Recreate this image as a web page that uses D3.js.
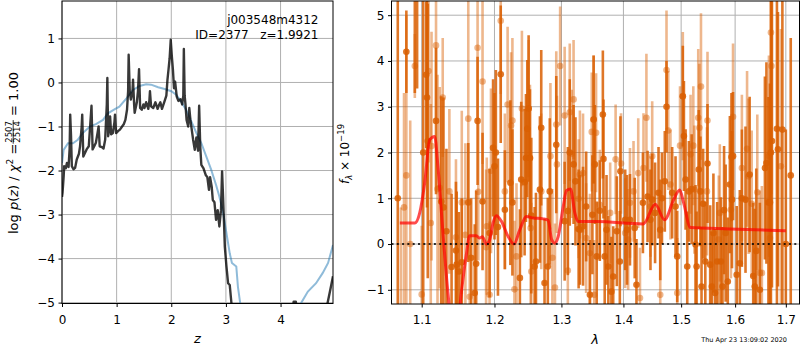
<!DOCTYPE html>
<html>
<head>
<meta charset="utf-8"/>
<script src="https://cdn.jsdelivr.net/npm/d3@7"></script>
<title>p(z) and spectrum</title>
<style type="text/css">
  body { margin: 0; background-color: white; }
  text { font-family: "DejaVu Sans", sans-serif; }
</style>
</head>
<body>
<div id="chart"></div>
<script type="text/javascript">

// ---- left panel: log p(z) ----
var pzZ = [0.00,0.01,0.03,0.04,0.07,0.09,0.12,0.14,0.15,0.165,0.18,0.21,0.24,0.27,0.31,0.33,0.36,0.37,0.39,0.42,
  0.45,0.49,0.52,0.54,0.56,0.59,0.62,0.65,0.67,0.69,0.73,0.76,0.79,0.82,0.83,0.845,0.87,0.88,0.90,0.93,
  0.96,0.97,0.99,1.03,1.06,1.10,1.13,1.16,1.19,1.21,1.22,1.24,1.26,1.29,1.30,1.32,1.33,1.37,1.39,1.41,
  1.43,1.46,1.49,1.51,1.54,1.58,1.60,1.61,1.63,1.67,1.71,1.75,1.78,1.80,1.83,1.87,1.91,1.93,1.95,1.97,
  1.99,2.01,2.03,2.05,2.07,2.10,2.13,2.17,2.20,2.22,2.23,2.245,2.26,2.28,2.31,2.33,2.35,2.40,2.43,2.46,
  2.49,2.51,2.53,2.55,2.59,2.63,2.66,2.69,2.71,2.74,2.76,2.79,2.82,2.85,2.88,2.91,2.93,2.96,2.98,3.01,
  3.04,3.07,3.10,3.12,3.30,3.80,4.20,4.24,4.28,4.32,4.60,4.83,4.87,4.92,4.96];
var pzLogp = [-2.6,-2.5,-2.14,-1.9,-1.95,-1.83,-1.92,-1.5,-0.73,-1.2,-1.9,-1.97,-1.94,-1.75,-1.62,-1.45,-1.0,-0.73,-1.68,-1.6,
  -1.52,-1.45,-0.9,-0.53,-1.52,-1.45,-1.37,-1.15,-1.0,-1.45,-1.47,-1.5,-1.3,-0.5,0.1,-1.22,-1.0,-0.77,-1.18,-1.15,
  -0.9,-0.73,-1.15,-1.1,-1.07,-1.0,-0.95,-0.85,-0.62,-0.2,0.63,-0.2,-0.39,-0.2,0.06,-0.5,-0.69,-0.45,-0.2,0.30,
  -0.58,-0.62,-0.5,-0.58,-0.45,-0.6,-0.4,-0.2,-0.54,-0.58,-0.45,-0.6,-0.5,-0.45,-0.6,-0.45,-0.3,0.06,0.3,0.55,
  0.97,0.6,0.29,-0.13,0.02,-0.32,-0.42,-0.38,-0.5,-0.3,0.76,-0.3,-0.5,-0.85,-1.0,-0.58,-0.85,-1.3,-1.53,-1.25,
  -1.55,-0.53,-1.45,-1.87,-1.95,-2.1,-2.15,-2.44,-2.15,-2.37,-2.67,-2.72,-3.12,-2.9,-3.27,-2.9,-2.02,-3.0,-3.73,-4.18,
  -4.56,-4.6,-5.0,-5.4,-6.5,-7.0,-5.4,-4.98,-4.98,-5.4,-6.0,-5.2,-4.95,-4.65,-4.4];

var priorZ = [0.00,0.03,0.11,0.20,0.29,0.38,0.51,0.63,0.75,0.84,0.96,1.05,1.18,1.30,1.42,1.54,1.63,1.76,1.88,2.00,
  2.09,2.18,2.27,2.37,2.46,2.55,2.64,2.73,2.82,2.88,2.95,3.01,3.07,3.11,3.19,3.22,3.26,3.30,4.30,4.38,
  4.50,4.65,4.77,4.87,4.96];
var priorLogp = [-1.83,-1.53,-1.38,-1.38,-1.30,-1.15,-1.0,-0.94,-0.85,-0.70,-0.61,-0.55,-0.36,-0.17,-0.08,-0.04,-0.05,-0.11,-0.15,-0.20,
  -0.28,-0.43,-0.62,-0.89,-1.15,-1.38,-1.68,-1.98,-2.33,-2.59,-2.97,-3.42,-3.88,-4.1,-4.18,-4.64,-5.0,-5.5,-5.5,-5.0,
  -4.75,-4.56,-4.33,-4.1,-3.69];

var zTicks = [0, 1, 2, 3, 4];
var logpTicks = [-5, -4, -3, -2, -1, 0, 1];

// ---- right panel: 1D spectrum ----
var darkWave = [1.069,1.080,1.091,1.094,1.102,1.106,1.107,1.108,1.119,1.126,
  1.129,1.133,1.140,1.146,1.147,1.150,1.154,1.163,1.167,1.172,
  1.174,1.176,1.183,1.193,1.198,1.200,1.202,1.205,1.209,1.215,
  1.223,1.226,1.237,1.239,1.244,1.246,1.248,1.250,1.252,1.254,
  1.259,1.261,1.267,1.269,1.274,1.279,1.282,1.292,1.305,1.310,
  1.313,1.319,1.322,1.327,1.329,1.334,1.339,1.345,1.349,1.351,
  1.353,1.356,1.361,1.366,1.367,1.369,1.372,1.375,1.380,1.383,
  1.389,1.394,1.395,1.403,1.406,1.411,1.419,1.422,1.433,1.441,
  1.446,1.449,1.454,1.460,1.463,1.466,1.471,1.474,1.484,1.490,
  1.493,1.503,1.505,1.508,1.511,1.514,1.519,1.526,1.528,1.532,
  1.535,1.537,1.540,1.544,1.548,1.553,1.556,1.559,1.562,1.566,
  1.573,1.576,1.579,1.582,1.586,1.590,1.593,1.594,1.596,1.603,
  1.609,1.613,1.620,1.628,1.635,1.638,1.641,1.648,1.658,1.661,
  1.665,1.668,1.670,1.672,1.682,1.684,1.693,1.700,1.710];
var darkFlux = [1.0,4.2,5.6,6.0,2.0,3.7,3.2,2.25,2.69,0.93,
  0.8,0.28,-0.5,-0.14,-0.45,-0.6,-0.4,0.91,-0.3,-1.07,
  -0.43,2.69,0.93,0.24,2.1,1.7,2.0,0.37,3.71,0.75,
  1.34,0.91,-0.74,1.41,1.35,1.88,2.52,2.96,1.88,0.62,
  -0.49,-0.38,1.19,2.54,-0.85,-0.49,1.15,2.17,0.5,0.72,
  2.0,1.74,1.37,0.33,0.31,0.39,0.82,-1.11,0.64,2.72,
  1.74,-0.27,0.73,2.83,1.86,-0.27,0.31,-0.49,-1.04,-0.71,
  0.28,-0.38,1.59,0.53,0.31,0.53,0.35,-0.89,0.9,1.04,
  0.53,0.97,0.68,1.12,0.31,1.0,1.37,3.0,1.12,0.82,
  -0.27,3.23,2.36,1.41,-0.49,1.15,1.2,-0.01,-0.49,1.63,
  1.15,-0.93,0.88,-0.38,1.76,-0.45,-0.93,0.24,-1.07,-0.38,
  -0.38,-0.93,0.74,0.24,-0.82,1.3,1.9,0.97,1.92,-0.67,
  -0.42,1.0,0.97,1.52,-0.7,-0.93,-0.15,-1.0,1.66,1.77,
  0.91,0.91,2.0,2.25,2.52,2.07,2.5,0.0,1.5];
var darkErr = [4.5,0.9,2.3,2.6,4.2,1.6,2.4,3.0,1.6,2.3,
  2.4,1.8,1.6,1.5,1.6,1.3,1.4,1.3,1.3,1.5,
  1.6,1.4,1.5,1.4,1.5,1.6,1.8,1.5,1.5,1.3,
  1.8,1.6,1.5,1.7,1.6,1.4,1.5,1.6,1.5,1.7,
  1.3,1.5,1.6,1.7,1.4,1.5,1.6,1.5,1.3,1.4,
  1.6,1.3,1.4,1.3,1.2,1.3,1.2,1.2,1.3,1.4,
  1.3,1.2,1.1,1.4,1.3,1.1,1.2,1.1,1.2,1.1,
  1.2,1.1,1.2,1.1,1.2,1.0,1.1,1.0,1.1,1.0,
  1.1,1.0,1.1,1.0,1.1,1.0,1.1,1.0,1.0,1.1,
  1.0,1.1,1.2,1.1,1.2,1.1,1.2,1.3,1.2,1.3,
  1.2,1.3,1.2,1.3,1.3,1.3,1.2,1.3,1.4,1.3,
  1.4,1.3,1.4,1.5,1.4,1.5,1.4,1.5,1.4,1.5,
  1.6,1.5,1.6,1.7,1.6,1.7,1.8,1.9,2.0,2.2,
  2.3,2.6,4.5,3.2,4.5,3.0,5.0,2.5,3.0];

var lightWave = [1.073,1.077,1.080,1.085,1.091,1.100,1.109,1.112,1.113,1.119,
  1.121,1.124,1.128,1.137,1.146,1.154,1.159,1.163,1.165,1.176,
  1.177,1.183,1.188,1.189,1.193,1.195,1.209,1.215,1.219,1.224,
  1.226,1.229,1.232,1.240,1.250,1.252,1.253,1.254,1.269,1.283,
  1.286,1.290,1.292,1.293,1.298,1.305,1.310,1.313,1.316,1.319,
  1.327,1.329,1.334,1.339,1.345,1.348,1.351,1.352,1.355,1.361,
  1.378,1.387,1.396,1.403,1.408,1.411,1.417,1.425,1.428,1.434,
  1.439,1.446,1.449,1.463,1.474,1.477,1.481,1.493,1.498,1.503,
  1.517,1.522,1.524,1.531,1.533,1.536,1.547,1.548,1.569,1.571,
  1.592,1.596,1.613,1.623,1.626,1.632,1.643,1.648,1.652,1.666,
  1.668,1.670,1.671,1.690];
var lightFlux = [-1.5,0.8,1.5,0.0,3.89,-1.1,3.78,0.46,2.14,4.34,
  1.2,1.23,3.2,1.15,0.15,0.91,0.2,2.74,-1.15,4.29,
  1.14,3.55,-0.07,0.39,-1.11,1.6,4.88,1.15,3.05,2.59,
  2.7,-0.99,-0.27,2.96,2.96,1.88,0.35,-0.6,1.15,1.92,
  -0.3,-0.95,2.61,1.74,3.89,2.81,-0.58,2.88,1.97,3.16,
  0.99,1.52,1.55,0.13,-0.2,2.45,2.72,-1.11,2.43,0.86,
  0.68,1.85,1.76,0.24,0.1,0.9,1.15,1.55,-1.18,1.66,
  2.76,0.82,1.92,-1.11,3.8,2.48,1.3,-1.07,2.15,3.23,
  1.96,2.15,1.19,2.76,2.54,3.44,1.15,2.7,0.1,0.68,
  0.75,2.78,1.66,2.08,1.48,0.88,1.13,-0.63,-0.63,1.92,
  0.13,4.62,3.89,1.7];
var lightErr = [2.3,2.5,3.5,2.7,0.7,1.5,2.0,2.6,2.5,1.7,
  2.5,2.2,1.3,1.8,1.7,2.0,2.0,2.6,1.2,1.6,
  1.5,1.8,1.7,1.5,1.6,1.8,1.6,1.7,1.7,1.6,
  1.8,1.5,1.6,1.7,1.5,1.6,1.7,1.5,1.7,1.6,
  1.5,1.4,1.6,1.5,1.3,1.5,1.4,1.5,1.4,1.3,
  1.3,1.4,1.3,1.2,1.3,1.3,1.4,1.2,1.3,1.2,
  1.1,1.2,1.1,1.2,1.1,1.2,1.1,1.2,1.1,1.2,
  1.4,1.1,1.2,1.2,1.3,1.3,1.2,1.2,1.3,1.4,
  1.3,1.3,1.4,1.5,1.4,1.6,1.4,1.5,1.4,1.5,
  1.5,1.6,1.6,1.7,1.7,1.6,1.7,1.8,1.9,2.2,
  2.4,2.3,2.8,3.0];

var modelWave = [1.0716,1.0911,1.0974,1.1039,1.1106,1.1172,1.1216,1.1283,1.1351,1.141,1.147,1.1533,
  1.1603,1.1649,1.1742,1.1789,1.1827,1.1884,1.1931,1.1979,1.2027,1.2099,1.2196,1.2284,
  1.2368,1.2467,1.2567,1.2719,1.2796,1.2848,1.2897,1.2949,1.3028,1.3079,1.3142,1.3210,
  1.3263,1.3557,1.4337,1.4542,1.4706,1.4866,1.4975,1.5047,1.5166,1.5900,1.700];
var modelFlux = [0.46,0.46,0.68,1.33,2.28,2.35,1.69,0.24,-1.07,-1.9,-1.95,-1.07,
  -0.23,0.18,0.18,0.13,0.16,0.0,0.09,0.46,0.62,0.5,0.17,0.0,
  0.31,0.6,0.57,0.55,0.52,0.1,0.02,0.16,0.82,1.17,1.2,0.68,
  0.49,0.49,0.44,0.87,0.53,0.97,1.18,0.89,0.36,0.33,0.29];

var waveTicks = [1.1, 1.2, 1.3, 1.4, 1.5, 1.6, 1.7];
var fluxTicks = [-1, 0, 1, 2, 3, 4, 5];

// ---- layout ----
var L = {left: 62, right: 333, top: 1, bottom: 303.5};
var R = {left: 391.5, right: 799.5, top: 1, bottom: 304};

var svg = d3.select("#chart").append("svg")
    .attr("width", 800)
    .attr("height", 350);

var defs = svg.append("defs");
defs.append("clipPath").attr("id", "clipL").append("rect")
    .attr("x", L.left).attr("y", L.top).attr("width", L.right - L.left).attr("height", L.bottom - L.top);
defs.append("clipPath").attr("id", "clipR").append("rect")
    .attr("x", R.left).attr("y", R.top).attr("width", R.right - R.left).attr("height", R.bottom - R.top);

var xL = d3.scaleLinear().domain([0, 4.96]).range([L.left, L.right]);
var yL = d3.scaleLinear().domain([-5.02, 1.85]).range([L.bottom, L.top]);
var xR = d3.scaleLog().domain([1.061, 1.728]).range([R.left, R.right]);
var yR = d3.scaleLinear().domain([-1.31, 5.31]).range([R.bottom, R.top]);

function drawGrid(box, xs, ys, xt, yt) {
  var g = svg.append("g").attr("class", "grid");
  g.selectAll(".gx").data(xt).enter().append("line")
    .attr("x1", function(d){ return xs(d); }).attr("x2", function(d){ return xs(d); })
    .attr("y1", box.top).attr("y2", box.bottom)
    .attr("stroke", "#b0b0b0").attr("stroke-width", 1);
  g.selectAll(".gy").data(yt).enter().append("line")
    .attr("x1", box.left).attr("x2", box.right)
    .attr("y1", function(d){ return ys(d); }).attr("y2", function(d){ return ys(d); })
    .attr("stroke", "#b0b0b0").attr("stroke-width", 1);
}

function drawAxes(box, xs, ys, xt, yt, xfmt) {
  var ax = svg.append("g")
    .attr("transform", "translate(0," + box.bottom + ")")
    .call(d3.axisBottom(xs).tickValues(xt).tickSize(3.5).tickPadding(8).tickFormat(xfmt));
  var ay = svg.append("g")
    .attr("transform", "translate(" + box.left + ",0)")
    .call(d3.axisLeft(ys).tickValues(yt).tickSize(3.5).tickPadding(3.5).tickFormat(d3.format("d")));
  [ax, ay].forEach(function(a){
    a.select(".domain").remove();
    a.attr("font-size", 12).attr("font-family", "DejaVu Sans");
    a.selectAll("line").attr("stroke", "#000").attr("stroke-width", 1);
    a.selectAll("text").attr("fill", "#000");
  });
  svg.append("rect")
    .attr("x", box.left).attr("y", box.top)
    .attr("width", box.right - box.left).attr("height", box.bottom - box.top)
    .attr("fill", "none").attr("stroke", "#000").attr("stroke-width", 1);
}

// left panel
drawGrid(L, xL, yL, zTicks, logpTicks);

var pzLine = d3.line()
    .x(function(d){ return xL(d[0]); })
    .y(function(d){ return yL(d[1]); });

var gl = svg.append("g").attr("clip-path", "url(#clipL)");
gl.append("path")
    .datum(priorZ.map(function(z, i){ return [z, priorLogp[i]]; }))
    .attr("d", pzLine)
    .attr("fill", "none").attr("stroke", "#1f77b4").attr("stroke-opacity", 0.5).attr("stroke-width", 2);
gl.append("path")
    .datum(pzZ.map(function(z, i){ return [z, pzLogp[i]]; }))
    .attr("d", pzLine)
    .attr("fill", "none").attr("stroke", "#000").attr("stroke-opacity", 0.78)
    .attr("stroke-width", 2.4).attr("stroke-linejoin", "round");

drawAxes(L, xL, yL, zTicks, logpTicks, d3.format("d"));

svg.append("text").attr("x", 318.5).attr("y", 24).attr("text-anchor", "end")
    .attr("font-size", 12).text("j003548m4312");
svg.append("text").attr("x", 318.5).attr("y", 39).attr("text-anchor", "end")
    .attr("font-size", 12).attr("xml:space", "preserve").text("ID=2377   z=1.9921");

svg.append("text").attr("x", 197.5).attr("y", 343).attr("text-anchor", "middle")
    .attr("font-size", 13).attr("font-style", "italic").text("z");

// y label with stacked fraction
var ylab = svg.append("g").attr("transform", "translate(17.5,153) rotate(-90)");
var partA = ylab.append("text").attr("font-size", 13);
partA.append("tspan").text("log ");
partA.append("tspan").attr("font-style", "italic").text("p");
partA.append("tspan").text("(");
partA.append("tspan").attr("font-style", "italic").text("z");
partA.append("tspan").text(") / ");
partA.append("tspan").attr("font-style", "italic").text("\u03c7");
partA.append("tspan").attr("font-size", 9).attr("dy", -5).text("2");
partA.append("tspan").attr("dy", 5).text(" = ");
var num = ylab.append("text").attr("font-size", 8.5).attr("text-anchor", "middle").text("2507");
var den = ylab.append("text").attr("font-size", 8.5).attr("text-anchor", "middle").text("2514");
var partB = ylab.append("text").attr("font-size", 13).attr("xml:space", "preserve").text(" = 1.00");
var wA = partA.node().getComputedTextLength();
var wF = Math.max(num.node().getComputedTextLength(), den.node().getComputedTextLength()) + 2;
var wB = partB.node().getComputedTextLength();
var x0 = -(wA + wF + wB) / 2;
partA.attr("x", x0);
num.attr("x", x0 + wA + wF / 2).attr("y", -6);
den.attr("x", x0 + wA + wF / 2).attr("y", 2.5);
ylab.append("line").attr("x1", x0 + wA).attr("x2", x0 + wA + wF)
    .attr("y1", -4.3).attr("y2", -4.3).attr("stroke", "#000").attr("stroke-width", 0.8);
partB.attr("x", x0 + wA + wF);

// right panel
drawGrid(R, xR, yR, waveTicks, fluxTicks);

var gr = svg.append("g").attr("clip-path", "url(#clipR)");

function drawSpec(wave, flux, err, op) {
  var pts = wave.map(function(w, i){ return {w: w, f: flux[i], e: err[i]}; });
  var g = gr.append("g");
  g.selectAll("line").data(pts).enter().append("line")
    .attr("x1", function(d){ return xR(d.w); }).attr("x2", function(d){ return xR(d.w); })
    .attr("y1", function(d){ return yR(d.f - d.e); }).attr("y2", function(d){ return yR(d.f + d.e); })
    .attr("stroke", "#d95f02").attr("stroke-width", 2.6).attr("stroke-opacity", op);
  g.selectAll("circle").data(pts).enter().append("circle")
    .attr("cx", function(d){ return xR(d.w); }).attr("cy", function(d){ return yR(d.f); })
    .attr("r", 3.3).attr("fill", "#d95f02").attr("fill-opacity", op);
}
drawSpec(lightWave, lightFlux, lightErr, 0.45);
drawSpec(darkWave, darkFlux, darkErr, 0.85);

gr.append("path")
    .datum(modelWave.map(function(w, i){ return [w, modelFlux[i]]; }))
    .attr("d", d3.line().curve(d3.curveMonotoneX)
        .x(function(d){ return xR(d[0]); })
        .y(function(d){ return yR(d[1]); }))
    .attr("fill", "none").attr("stroke", "#ff0000").attr("stroke-opacity", 0.7).attr("stroke-width", 3);

gr.append("line")
    .attr("x1", R.left).attr("x2", R.right)
    .attr("y1", yR(0)).attr("y2", yR(0))
    .attr("stroke", "#000").attr("stroke-opacity", 0.8).attr("stroke-width", 2)
    .attr("stroke-dasharray", "2,3.3");

drawAxes(R, xR, yR, waveTicks, fluxTicks, d3.format(".1f"));

svg.append("text").attr("x", 595).attr("y", 344).attr("text-anchor", "middle")
    .attr("font-size", 13).attr("font-style", "italic").text("\u03bb");

var rlab = svg.append("text").attr("transform", "translate(349,154) rotate(-90)")
    .attr("text-anchor", "middle").attr("font-size", 12);
rlab.append("tspan").attr("font-style", "italic").text("f");
rlab.append("tspan").attr("font-size", 8.5).attr("font-style", "italic").attr("dy", 3).text("\u03bb");
rlab.append("tspan").attr("dy", -3).text(" \u00d7 10");
rlab.append("tspan").attr("font-size", 8.5).attr("dy", -5).text("\u221219");

svg.append("text").attr("x", 787).attr("y", 342).attr("text-anchor", "end")
    .attr("font-size", 6.5).text("Thu Apr 23 13:09:02 2020");

</script>
</body>
</html>
